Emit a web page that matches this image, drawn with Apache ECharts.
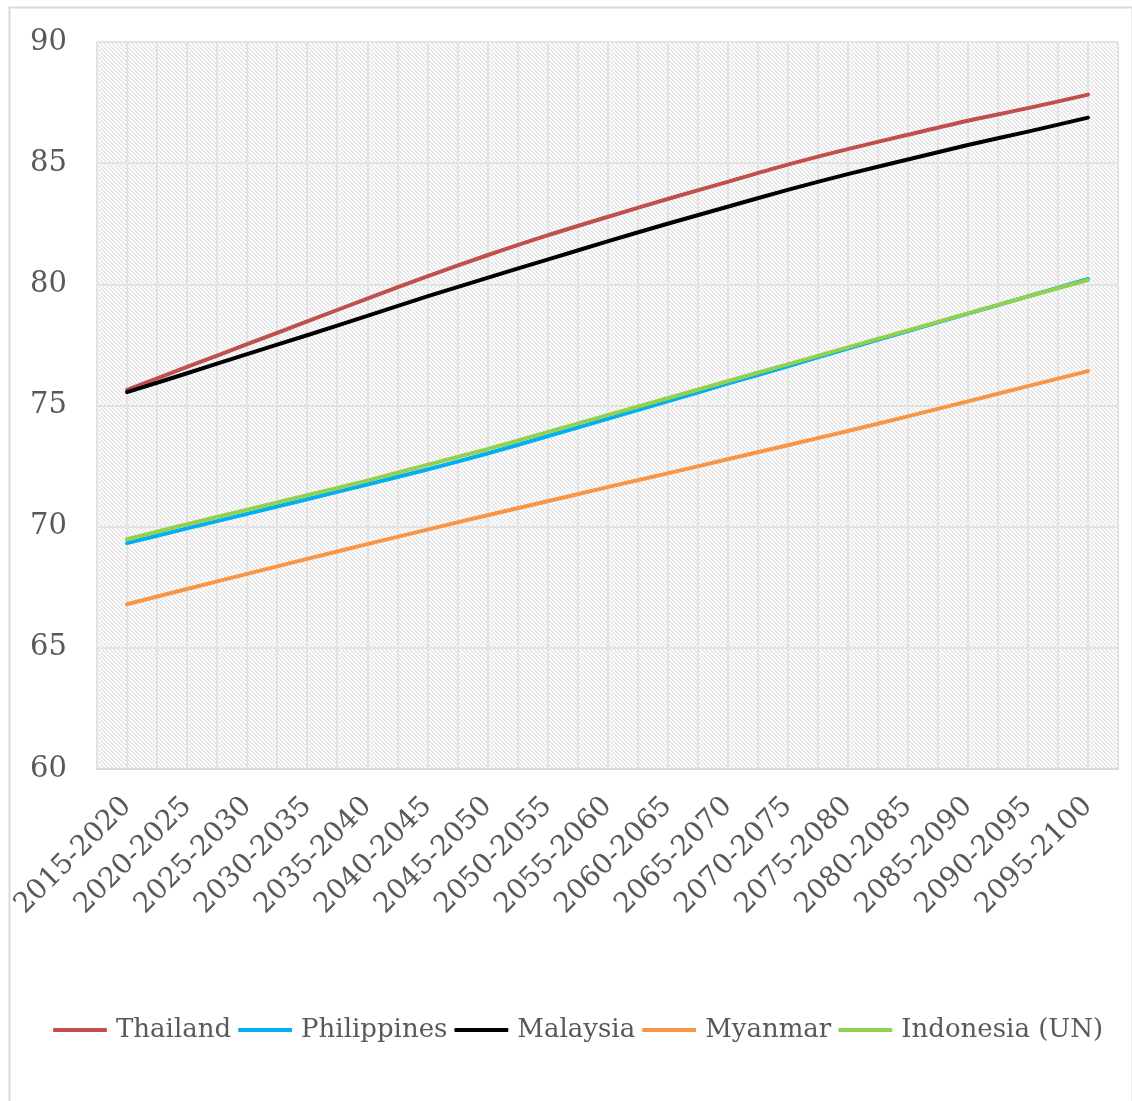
<!DOCTYPE html>
<html>
<head>
<meta charset="utf-8">
<script src="https://cdn.jsdelivr.net/npm/echarts@6/dist/echarts.min.js"></script>
<style>
html,body{margin:0;padding:0;background:#fff;}
#chart{width:1132px;height:1101px;}
</style>
</head>
<body>
<div id="chart"></div>
<script>
const categories = ['2015-2020','2020-2025','2025-2030','2030-2035','2035-2040','2040-2045','2045-2050','2050-2055','2055-2060','2060-2065','2065-2070','2070-2075','2075-2080','2080-2085','2085-2090','2090-2095','2095-2100'];
const thailand    = [75.65, 76.59, 77.53, 78.47, 79.41, 80.33, 81.20, 82.02, 82.78, 83.52, 84.23, 84.94, 85.58, 86.17, 86.75, 87.27, 87.83];
const philippines = [69.32, 69.93, 70.53, 71.13, 71.74, 72.36, 73.02, 73.73, 74.45, 75.17, 75.90, 76.62, 77.35, 78.07, 78.79, 79.50, 80.22];
const malaysia    = [75.55, 76.33, 77.12, 77.90, 78.70, 79.50, 80.27, 81.02, 81.77, 82.50, 83.20, 83.90, 84.55, 85.15, 85.75, 86.30, 86.88];
const myanmar     = [66.80, 67.43, 68.05, 68.67, 69.28, 69.88, 70.47, 71.05, 71.63, 72.20, 72.78, 73.36, 73.95, 74.55, 75.17, 75.80, 76.42];
const indonesia   = [69.48, 70.10, 70.70, 71.30, 71.90, 72.55, 73.20, 73.90, 74.60, 75.30, 76.00, 76.70, 77.40, 78.10, 78.80, 79.50, 80.18];
const yTicks = {min: 60, max: 90, interval: 5};

const FONT = 'DejaVu Serif';
const TXT = '#595959';

// hatched background pattern
const pc = document.createElement('canvas');
pc.width = 8; pc.height = 8;
const pctx = pc.getContext('2d');
pctx.fillStyle = '#ffffff';
pctx.fillRect(0,0,8,8);
pctx.fillStyle = '#e6e6e6';
for (let y = 0; y < 8; y++) for (let x = 0; x < 8; x++) {
  if (((x - y) % 4 + 4) % 4 < 2) pctx.fillRect(x, y, 1, 1);
}

const chart = echarts.init(document.getElementById('chart'), null, {renderer: 'canvas'});
const mk = (name, data, color) => ({
  name, type: 'line', data, xAxisIndex: 0, yAxisIndex: 0,
  symbol: 'none', smooth: 0.3, z: 5,
  lineStyle: {color, width: 4, cap: 'round', join: 'round'},
  itemStyle: {color},
  emphasis: {disabled: true}
});
chart.setOption({
  animation: false,
  backgroundColor: '#ffffff',
  graphic: [{
    type: 'rect', left: 7, top: 5, z: -10,
    shape: {width: 1123, height: 1100},
    style: {fill: null, stroke: '#d9d9d9', lineWidth: 2}
  }],
  grid: {
    left: 97, right: 14, top: 42, bottom: 332,
    show: true, borderWidth: 0,
    backgroundColor: {image: pc, repeat: 'repeat'}
  },
  legend: {
    left: 48, top: 1012, width: 1090,
    itemWidth: 54, itemHeight: 4, itemGap: 7,
    icon: 'roundRect',
    textStyle: {fontFamily: FONT, fontSize: 26, color: TXT, padding: [0,0,0,4]},
    data: ['Thailand','Philippines','Malaysia','Myanmar','Indonesia (UN)']
  },
  xAxis: [{
    type: 'category', data: categories, boundaryGap: true,
    axisLine: {show: true, lineStyle: {color: '#d9d9d9', width: 2}},
    axisTick: {show: false},
    splitLine: {show: true, interval: 0, lineStyle: {color: '#e3e3e3', width: 2}},
    axisLabel: {interval: 0, rotate: 45, margin: 33, fontFamily: FONT, fontSize: 28, color: TXT}
  }, {
    type: 'value', min: 0, max: 34, interval: 1, position: 'top',
    axisLine: {show: false}, axisTick: {show: false}, axisLabel: {show: false},
    splitLine: {show: true, lineStyle: {color: '#e3e3e3', width: 2}}
  }],
  yAxis: {
    type: 'value', min: yTicks.min, max: yTicks.max, interval: yTicks.interval,
    axisLine: {show: false}, axisTick: {show: false},
    splitLine: {show: true, lineStyle: {color: '#e3e3e3', width: 2}},
    axisLabel: {margin: 30, fontFamily: FONT, fontSize: 29, color: TXT}
  },
  series: [
    mk('Thailand', thailand, '#c0504d'),
    mk('Philippines', philippines, '#00b0f0'),
    mk('Malaysia', malaysia, '#000000'),
    mk('Myanmar', myanmar, '#f79646'),
    mk('Indonesia (UN)', indonesia, '#92d050'),
    {type: 'line', xAxisIndex: 1, yAxisIndex: 0, data: [], silent: true}
  ]
});
</script>
</body>
</html>
